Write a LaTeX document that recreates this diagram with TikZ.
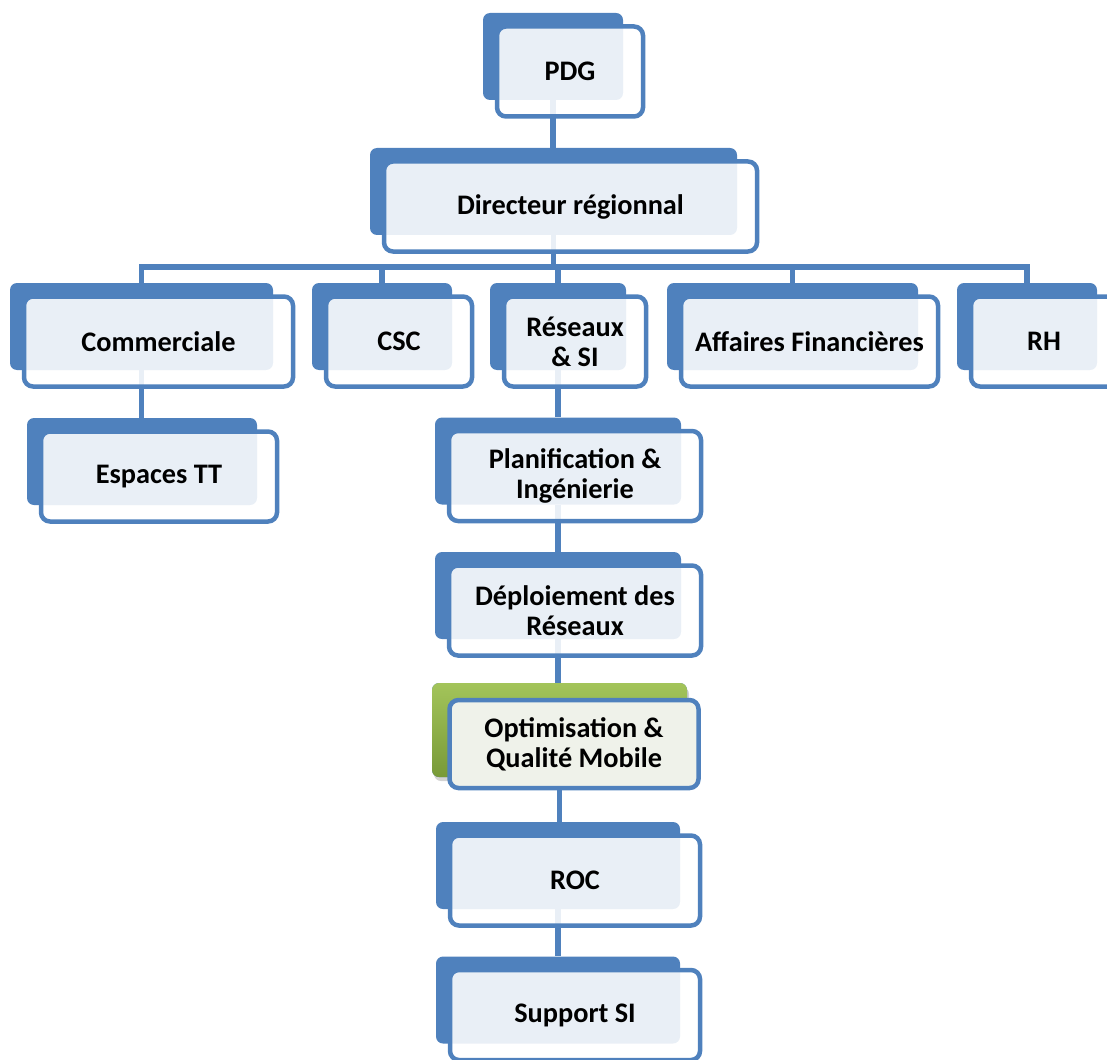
\documentclass[tikz,border=0pt]{standalone}
\usepackage{fontspec}
\setmainfont{Carlito}
\usepackage{tikz}
\usetikzlibrary{backgrounds, shadows}
\definecolor{tblue}{HTML}{4F81BD}
\definecolor{tgreen}{HTML}{A3C45A}
\definecolor{tgreendk}{HTML}{789A38}
\definecolor{tpale}{HTML}{EFF2EA}
\tikzset{
  backbox/.style  = {rectangle, fill=tblue, rounded corners=7pt,
                     inner sep=0pt, minimum height=87pt},
  frontbox/.style = {rectangle, draw=tblue, line width=4.5pt, rounded corners=9pt,
                     fill=white, fill opacity=0.88, text opacity=1,
                     inner sep=0pt, minimum height=90pt, align=center,
                     font=\bfseries\fontsize{28.3}{30}\selectfont},
  link/.style     = {draw=tblue, line width=5.5pt},
}
\begin{document}
\begin{tikzpicture}[x=1pt, y=-1pt]
  \useasboundingbox (0,0) rectangle (1107,1059);
  % boxes: name / back centre / back width / text
  \foreach \n/\x/\y/\w/\t in {
      pdg/553/56.5/140/PDG,
      dir/553.5/191.5/367/Directeur régionnal,
      com/141.5/326.5/263/Commerciale,
      csc/382/326.5/140/CSC,
      res/558/326.5/136/{Réseaux\\\& SI},
      af/792.5/326.5/251/Affaires Financières,
      rh/1027/326.5/140/RH,
      esp/142/461.5/230/Espaces TT,
      plan/558/461/246/{Planification \&\\Ingénierie},
      dep/558/595.5/246/{Déploiement des\\Réseaux},
      roc/558/865.5/244/ROC,
      ssi/558/1000/244/Support SI}
  {
    \node[backbox, minimum width={\w}] (\n) at (\x,\y) {};
    \node[frontbox, minimum width={\w+6}] (\n-f) at (\x+17,\y+15) {\t};
  }
  % the highlighted box
  \node[backbox, top color=tgreen, bottom color=tgreendk, minimum width=255pt,
        minimum height=94pt, drop shadow={shadow xshift=2pt, shadow yshift=-4pt, opacity=0.35}]
        (opt) at (559.5,730) {};
  \node[frontbox, fill=tpale, fill opacity=1, minimum width=249pt, minimum height=88pt]
        (opt-f) at (574,744) {Optimisation \&\\Qualité Mobile};
  \coordinate (bus) at (0,267);
  \begin{scope}[on background layer]
    \draw[link] (pdg.south) -- (pdg.south |- dir.north);
    \foreach \c in {com,csc,res,af,rh}
      \draw[link] (dir.south) -- (dir.south |- bus) -| (\c.north);
    \draw[link] (com.south) -- (com.south |- esp.north);
    \foreach \a/\b in {res/plan,plan/dep,dep/opt,opt/roc,roc/ssi}
      \draw[link] (\a.south) -- (\a.south |- \b.north);
  \end{scope}
\end{tikzpicture}
\end{document}
